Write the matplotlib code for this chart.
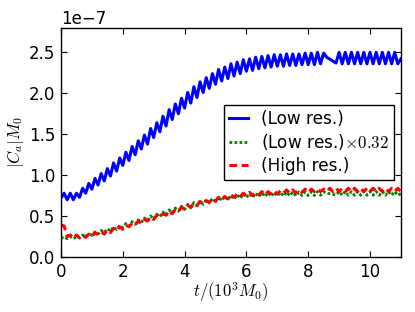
import numpy as np
import matplotlib
matplotlib.use("Agg")
import matplotlib.pyplot as plt

# ---- data (values in units of 1e-7) ----
scale = 1e-7
low_factor = 0.32

t_low_a = [round(0.1 * i, 1) for i in range(0, 87)]      # 0.0 .. 8.6
t_low_b = [round(0.1 * i, 1) for i in range(89, 111)]    # 8.9 .. 11.0
t_low = t_low_a + t_low_b

low_res = [
    0.72, 0.78, 0.70, 0.78, 0.70, 0.78, 0.73, 0.84, 0.78, 0.90,
    0.83, 0.96, 0.88, 1.02, 0.93, 1.08, 0.99, 1.15, 1.05, 1.21,
    1.12, 1.28, 1.18, 1.35, 1.25, 1.42, 1.32, 1.49, 1.38, 1.57,
    1.46, 1.64, 1.53, 1.72, 1.60, 1.80, 1.68, 1.87, 1.75, 1.94,
    1.82, 2.01, 1.88, 2.08, 1.95, 2.14, 2.01, 2.19, 2.06, 2.24,
    2.11, 2.29, 2.15, 2.32, 2.18, 2.36, 2.21, 2.38, 2.24, 2.41,
    2.27, 2.42, 2.28, 2.44, 2.30, 2.45, 2.31, 2.46, 2.32, 2.47,
    2.33, 2.47, 2.33, 2.48, 2.34, 2.48, 2.34, 2.48, 2.35, 2.49,
    2.35, 2.49, 2.35, 2.50, 2.36, 2.49, 2.44,
    # after gap (8.9 .. 11.0)
    2.37, 2.50, 2.36, 2.50, 2.36, 2.50, 2.36, 2.50, 2.36, 2.50,
    2.36, 2.50, 2.36, 2.50, 2.36, 2.50, 2.36, 2.50, 2.36, 2.50,
    2.36, 2.42,
]

t_high = [round(0.1 * i, 1) for i in range(0, 111)]
high_res = [
    0.39, 0.38, 0.25, 0.27, 0.23, 0.27, 0.235, 0.27, 0.24, 0.28,
    0.25, 0.30, 0.27, 0.31, 0.28, 0.33, 0.30, 0.35, 0.32, 0.37,
    0.34, 0.39, 0.37, 0.41, 0.39, 0.44, 0.41, 0.46, 0.44, 0.49,
    0.46, 0.51, 0.49, 0.53, 0.51, 0.56, 0.53, 0.58, 0.56, 0.61,
    0.58, 0.63, 0.61, 0.65, 0.63, 0.68, 0.65, 0.69, 0.67, 0.71,
    0.68, 0.73, 0.70, 0.74, 0.71, 0.76, 0.73, 0.77, 0.74, 0.78,
    0.75, 0.79, 0.75, 0.79, 0.76, 0.80, 0.76, 0.80, 0.77, 0.81,
    0.77, 0.81, 0.78, 0.82, 0.78, 0.82, 0.78, 0.82, 0.79, 0.83,
    0.79, 0.83, 0.80, 0.83, 0.80, 0.83, 0.80, 0.84, 0.80, 0.84,
    0.80, 0.84, 0.80, 0.84, 0.80, 0.84, 0.80, 0.84, 0.80, 0.84,
    0.80, 0.84, 0.80, 0.84, 0.80, 0.84, 0.80, 0.84, 0.80, 0.84,
    0.80,
]

labels = ["(Low res.)", r"(Low res.)$\times0.32$", "(High res.)"]
x_ticks = [0, 2, 4, 6, 8, 10]
y_ticks = [0.0, 0.5, 1.0, 1.5, 2.0, 2.5]

# ---- plot ----
plt.rcParams["mathtext.fontset"] = "cm"
plt.rcParams["font.family"] = ["DejaVu Sans"]

fig = plt.figure(figsize=(4.15, 3.12), dpi=100)
ax = fig.add_axes([0.147, 0.176, 0.819, 0.735])

tl = np.array(t_low)
lr = np.array(low_res) * scale
hr = np.array(high_res) * scale

ax.plot(tl, lr, color="b", lw=2.2, label=labels[0])
ax.plot(tl, lr * low_factor, color="g", lw=2.0, ls=":", dashes=(1, 0.8),
        label=labels[1])
ax.plot(np.array(t_high), hr, color="r", lw=2.2, ls="--", dashes=(2.5, 1.5),
        label=labels[2])

ax.set_xlim(0, 11)
ax.set_ylim(0, 2.8e-7)
ax.set_xticks(x_ticks)
ax.set_yticks(np.array(y_ticks) * scale)
ax.ticklabel_format(axis="y", style="sci", scilimits=(0, 0))
ax.yaxis.get_offset_text().set_fontsize(12)

ax.tick_params(direction="in", top=True, right=True, length=4, width=0.8,
               labelsize=12, pad=4)
for s in ax.spines.values():
    s.set_linewidth(1.0)
    s.set_color("black")

ax.set_xlabel(r"$t/(10^3M_0)$", fontsize=12, labelpad=0)
ax.set_ylabel(r"$|C_a|M_0$", fontsize=12, labelpad=2)

leg = ax.legend(loc="center right", fontsize=12.2, handlelength=1.1,
                handletextpad=0.8, labelspacing=0.25, borderpad=0.3,
                borderaxespad=0.4,
                fancybox=False, framealpha=1.0, edgecolor="black")
leg.get_frame().set_linewidth(1.0)

fig.savefig("out.png", dpi=100, facecolor="white")
